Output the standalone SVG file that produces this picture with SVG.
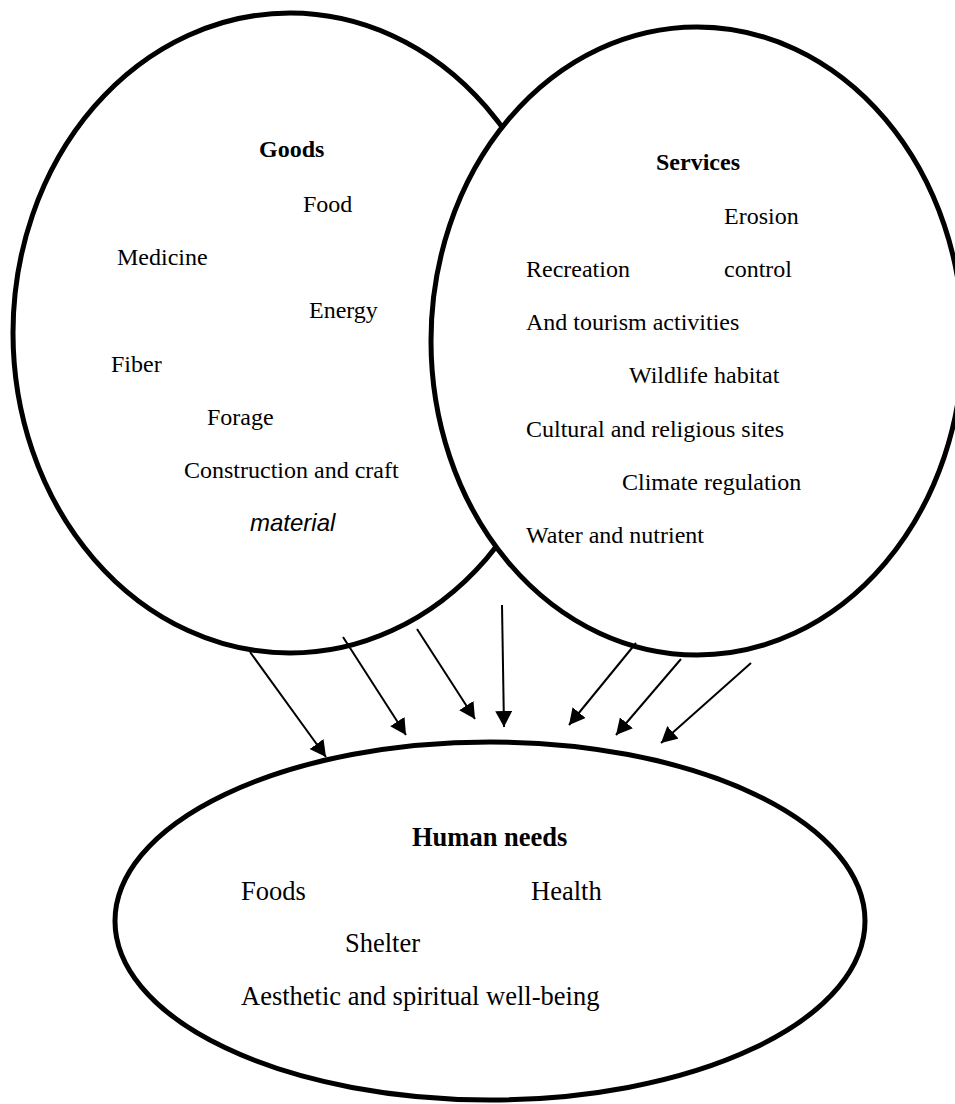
<svg xmlns="http://www.w3.org/2000/svg" width="955" height="1104" viewBox="0 0 955 1104">
<style>
.oval{fill:#fff;stroke:#000;stroke-width:5}
.t{font-family:"Liberation Serif","Times New Roman",serif;font-size:24px;fill:#000}
.b{font-weight:bold}
.h{font-size:26.5px}
.it{font-family:"Liberation Sans",Arial,sans-serif;font-style:italic;font-size:24px;fill:#000}
.arr{stroke:#000;stroke-width:2;fill:none;marker-end:url(#ah)}
</style>
<defs>
<marker id="ah" markerUnits="userSpaceOnUse" markerWidth="17" markerHeight="17" refX="16" refY="8.5" orient="auto">
<path d="M0,0 L16,8.5 L0,17 z" fill="#000"/>
</marker>
</defs>
<rect width="955" height="1104" fill="#fff"/>
<g id="goods">
<ellipse class="oval" cx="290" cy="333" rx="277" ry="320"/>
<text class="t b" x="259" y="157">Goods</text>
<text class="t" x="303" y="212">Food</text>
<text class="t" x="117" y="265">Medicine</text>
<text class="t" x="309" y="318">Energy</text>
<text class="t" x="111" y="372">Fiber</text>
<text class="t" x="207" y="425">Forage</text>
<text class="t" x="184" y="478">Construction and craft</text>
<text class="it" x="250" y="531">material</text>
</g>
<g id="services">
<ellipse class="oval" cx="697" cy="341" rx="266" ry="314"/>
<text class="t b" x="656" y="170">Services</text>
<text class="t" x="724" y="224">Erosion</text>
<text class="t" x="526" y="277">Recreation</text>
<text class="t" x="724" y="277">control</text>
<text class="t" x="526" y="330">And tourism activities</text>
<text class="t" x="629" y="383">Wildlife habitat</text>
<text class="t" x="526" y="437">Cultural and religious sites</text>
<text class="t" x="622" y="490">Climate regulation</text>
<text class="t" x="526" y="543">Water and nutrient</text>
</g>
<g id="human-needs">
<ellipse class="oval" cx="490" cy="921" rx="375" ry="179"/>
<text class="t b h" x="412" y="846">Human needs</text>
<text class="t h" x="241" y="900">Foods</text>
<text class="t h" x="531" y="900">Health</text>
<text class="t h" x="345" y="952">Shelter</text>
<text class="t h" x="241" y="1005">Aesthetic and spiritual well-being</text>
</g>
<g id="connectors">
<line class="arr" x1="250" y1="652" x2="326" y2="757"/>
<line class="arr" x1="343" y1="637" x2="406" y2="735"/>
<line class="arr" x1="417" y1="629" x2="475" y2="719"/>
<line class="arr" x1="502" y1="605" x2="504" y2="727"/>
<line class="arr" x1="636" y1="643" x2="569" y2="725"/>
<line class="arr" x1="681" y1="659" x2="616" y2="735"/>
<line class="arr" x1="751" y1="663" x2="661" y2="743"/>
</g>
</svg>
